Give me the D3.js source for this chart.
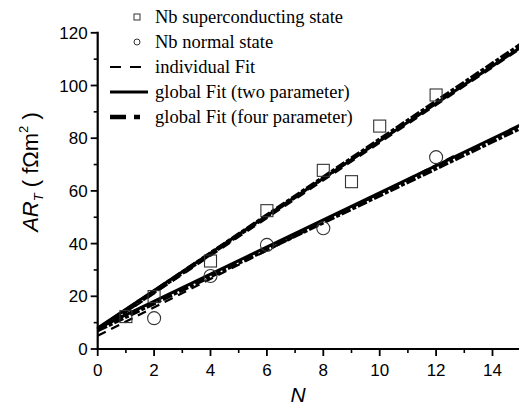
<!DOCTYPE html>
<html>
<head>
<meta charset="utf-8">
<script src="https://cdn.jsdelivr.net/npm/d3@7"></script>
<style>
  body { margin: 0; background: #fff; }
  svg { display: block; }
</style>
</head>
<body>
<div id="chart"></div>
<script>
// measured points: number of bilayers N vs area-resistance product
const scN = [1, 2, 4, 6, 8, 9, 10, 12];
const scAR = [12.3, 19.9, 33.4, 52.5, 67.8, 63.5, 84.6, 96.4];
const nmN = [2, 4, 6, 8, 12];
const nmAR = [11.7, 27.7, 39.5, 45.8, 72.8];

// fit lines: [intercept, slope, xStart, xEnd]
const indivFits = [[6.8, 7.15, 0, 15], [5.0, 5.4, 0, 12.7]];
const globalTwo = [[8.0, 7.1, 0, 15], [7.8, 5.15, 0, 15]];
const globalFour = [[7.4, 7.2, 0, 15], [7.2, 5.12, 0, 15]];

const xTicks = [0, 2, 4, 6, 8, 10, 12, 14];
const yTicks = [0, 20, 40, 60, 80, 100, 120];

const legendLabels = [
  'Nb superconducting state',
  'Nb normal state',
  'individual Fit',
  'global Fit (two parameter)',
  'global Fit (four parameter)'
];

const width = 519, height = 408;

const svg = d3.select('#chart')
  .append('svg')
  .attr('width', width)
  .attr('height', height);

const xScale = d3.scaleLinear().domain([0, 15]).range([97.7, 520.7]);
const yScale = d3.scaleLinear().domain([0, 120]).range([349, 32.8]);

const tickFont = 'Liberation Sans, Arial, sans-serif';

// x axis
const xAxis = svg.append('g').attr('transform', `translate(0,${yScale(0)})`);
xAxis.append('line')
  .attr('x1', xScale(0) - 1).attr('x2', width + 5)
  .attr('stroke', '#000').attr('stroke-width', 2.2);
xAxis.selectAll('.xminor')
  .data(d3.range(1, 16, 2))
  .enter().append('line')
  .attr('x1', d => xScale(d)).attr('x2', d => xScale(d))
  .attr('y1', 0).attr('y2', 4)
  .attr('stroke', '#000').attr('stroke-width', 1.6);
xAxis.selectAll('.xmajor')
  .data(xTicks)
  .enter().append('line')
  .attr('x1', d => xScale(d)).attr('x2', d => xScale(d))
  .attr('y1', 0).attr('y2', 7)
  .attr('stroke', '#000').attr('stroke-width', 1.8);
xAxis.selectAll('.xlabel')
  .data(xTicks)
  .enter().append('text')
  .attr('x', d => xScale(d))
  .attr('y', 27)
  .attr('text-anchor', 'middle')
  .attr('font-family', tickFont)
  .attr('font-size', 17)
  .text(d => d);

// y axis
const yAxis = svg.append('g').attr('transform', `translate(${xScale(0)},0)`);
yAxis.append('line')
  .attr('y1', yScale(0) + 1).attr('y2', yScale(120) - 1)
  .attr('stroke', '#000').attr('stroke-width', 2.2);
yAxis.selectAll('.yminor')
  .data(d3.range(10, 120, 20))
  .enter().append('line')
  .attr('y1', d => yScale(d)).attr('y2', d => yScale(d))
  .attr('x1', 0).attr('x2', -4)
  .attr('stroke', '#000').attr('stroke-width', 1.6);
yAxis.selectAll('.ymajor')
  .data(yTicks)
  .enter().append('line')
  .attr('y1', d => yScale(d)).attr('y2', d => yScale(d))
  .attr('x1', 0).attr('x2', -7)
  .attr('stroke', '#000').attr('stroke-width', 1.8);
yAxis.selectAll('.ylabel')
  .data(yTicks)
  .enter().append('text')
  .attr('x', -10)
  .attr('y', d => yScale(d))
  .attr('dy', '0.36em')
  .attr('text-anchor', 'end')
  .attr('font-family', tickFont)
  .attr('font-size', 17)
  .text(d => d);

// axis titles
svg.append('text')
  .attr('x', 298)
  .attr('y', 402)
  .attr('text-anchor', 'middle')
  .attr('font-family', tickFont)
  .attr('font-style', 'italic')
  .attr('font-size', 21)
  .text('N');

const yTitle = svg.append('text')
  .attr('transform', 'translate(38,172) rotate(-90)')
  .attr('text-anchor', 'middle')
  .attr('font-family', tickFont)
  .attr('font-size', 22);
yTitle.append('tspan').attr('font-style', 'italic').text('AR');
yTitle.append('tspan').attr('font-style', 'italic').attr('font-size', 13).attr('dy', 5).text('T');
yTitle.append('tspan').attr('dy', -5).text(' ( f\u03A9m');
yTitle.append('tspan').attr('font-size', 13).attr('dy', -10).text('2');
yTitle.append('tspan').attr('dy', 10).text(' )');

// fit lines
const plot = svg.append('g');

function drawFits(fits, width, dash) {
  plot.selectAll(null)
    .data(fits)
    .enter().append('line')
    .attr('x1', d => xScale(d[2]))
    .attr('y1', d => yScale(d[0] + d[1] * d[2]))
    .attr('x2', d => xScale(d[3]))
    .attr('y2', d => yScale(d[0] + d[1] * d[3]))
    .attr('stroke', '#000')
    .attr('stroke-width', width)
    .attr('stroke-dasharray', dash);
}

drawFits(indivFits, 2.2, '9 6');
drawFits(globalTwo, 3, null);
drawFits(globalFour, 4.5, '10 2 4 2');

// data markers
const scData = scN.map((n, i) => ({ n, v: scAR[i] }));
const nmData = nmN.map((n, i) => ({ n, v: nmAR[i] }));

plot.selectAll('.sq')
  .data(scData)
  .enter().append('rect')
  .attr('x', d => xScale(d.n) - 6)
  .attr('y', d => yScale(d.v) - 6)
  .attr('width', 12)
  .attr('height', 12)
  .attr('fill', 'none')
  .attr('stroke', '#333')
  .attr('stroke-width', 1.1);

plot.selectAll('.circ')
  .data(nmData)
  .enter().append('circle')
  .attr('cx', d => xScale(d.n))
  .attr('cy', d => yScale(d.v))
  .attr('r', 6.5)
  .attr('fill', 'none')
  .attr('stroke', '#333')
  .attr('stroke-width', 1.1);

// legend
const legend = svg.append('g');
const rowY = i => 17 + i * 25;

legend.append('rect')
  .attr('x', 134).attr('y', rowY(0) - 3)
  .attr('width', 6).attr('height', 6)
  .attr('fill', 'none').attr('stroke', '#333');
legend.append('circle')
  .attr('cx', 137).attr('cy', rowY(1))
  .attr('r', 3)
  .attr('fill', 'none').attr('stroke', '#333');
legend.append('line')
  .attr('x1', 110).attr('x2', 144).attr('y1', rowY(2)).attr('y2', rowY(2))
  .attr('stroke', '#000').attr('stroke-width', 2).attr('stroke-dasharray', '11 9');
legend.append('line')
  .attr('x1', 110).attr('x2', 148).attr('y1', rowY(3)).attr('y2', rowY(3))
  .attr('stroke', '#000').attr('stroke-width', 3);
legend.append('line')
  .attr('x1', 110).attr('x2', 143).attr('y1', rowY(4)).attr('y2', rowY(4))
  .attr('stroke', '#000').attr('stroke-width', 4.5).attr('stroke-dasharray', '16 8 6 8');

legend.selectAll('.ltext')
  .data(legendLabels)
  .enter().append('text')
  .attr('x', 155)
  .attr('y', (d, i) => rowY(i))
  .attr('dy', '0.33em')
  .attr('font-family', 'Liberation Serif, Times New Roman, serif')
  .attr('font-size', 18.5)
  .text(d => d);
</script>
</body>
</html>
